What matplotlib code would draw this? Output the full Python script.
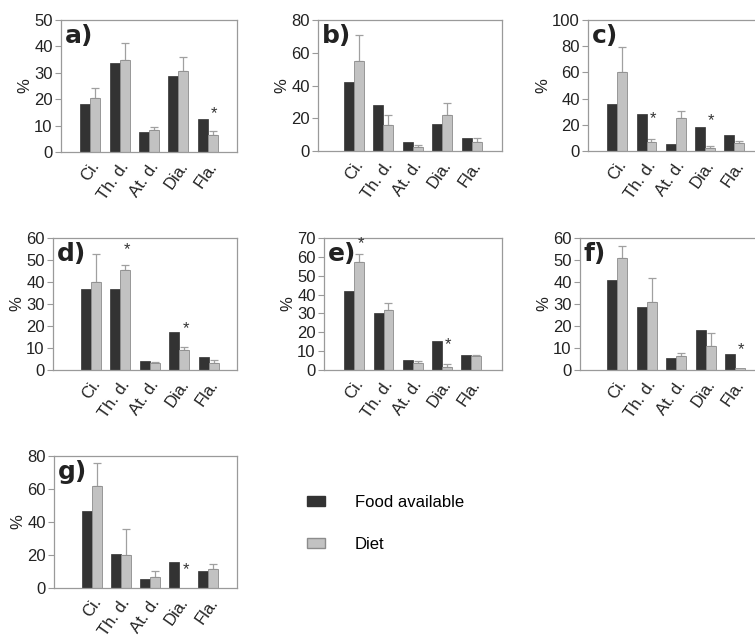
import matplotlib
matplotlib.use("Agg")
import matplotlib.pyplot as plt
import numpy as np
from matplotlib.patches import Patch

plt.rcParams['font.family'] = ['Liberation Sans', 'DejaVu Sans']

categories = ["Ci.", "Th. d.", "At. d.", "Dia.", "Fla."]
series_names = ["Food available", "Diet"]

food_a = [18.0, 33.8, 7.5, 28.9, 12.4]
diet_a = [20.6, 34.8, 8.2, 30.8, 6.5]
err_a = [3.7, 6.6, 1.3, 5.0, 1.6]
star_a = [None, None, None, None, 14.6]

food_b = [42.4, 27.9, 5.3, 16.3, 7.7]
diet_b = [55.0, 15.7, 2.6, 22.0, 5.3]
err_b = [15.9, 6.1, 1.1, 7.1, 2.4]
star_b = [None, None, None, None, None]

food_c = [35.6, 28.5, 5.6, 18.1, 12.5]
diet_c = [60.6, 6.6, 25.2, 2.3, 6.1]
err_c = [18.5, 2.8, 5.1, 1.5, 1.3]
star_c = [None, 25.0, None, 23.0, None]

food_d = [36.8, 36.8, 4.3, 17.3, 5.8]
diet_d = [40.1, 45.6, 3.0, 9.1, 3.2]
err_d = [12.5, 2.3, 0.8, 1.4, 1.4]
star_d = [None, 54.7, None, 19.0, None]

food_e = [42.0, 30.1, 5.1, 15.2, 8.2]
diet_e = [57.1, 31.6, 3.7, 1.8, 7.3]
err_e = [4.6, 3.7, 1.3, 1.4, 0.5]
star_e = [67.0, None, None, 13.3, None]

food_f = [40.8, 28.5, 5.4, 18.0, 7.3]
diet_f = [50.9, 31.0, 6.5, 11.0, 0.9]
err_f = [5.4, 10.8, 1.1, 5.6, 0.0]
star_f = [None, None, None, None, 9.4]

food_g = [46.6, 20.9, 5.3, 16.0, 10.3]
diet_g = [61.7, 19.8, 6.7, 0.2, 11.3]
err_g = [13.8, 16.2, 3.6, 0.0, 3.3]
star_g = [None, None, None, 11.3, None]

W, H = 755, 639
fig = plt.figure(figsize=(W / 100, H / 100), dpi=100)

DARK = "#333333"
LIGHT = "#c2c2c2"
EDGE = "#8c8c8c"
SPINE = "#9a9a9a"
TXT = "#222222"

# (label, food, diet, err, star, ymax, ystep, left,right,top,bottom px, xlim)
panels = [
    ("a)", food_a, diet_a, err_a, star_a, 50, 10, 61, 237, 20, 152, (-1.0, 5.0)),
    ("b)", food_b, diet_b, err_b, star_b, 80, 20, 318, 502, 20, 151, (-1.22, 5.03)),
    ("c)", food_c, diet_c, err_c, star_c, 100, 20, 588, 760, 20, 151, (-1.0, 4.88)),
    ("d)", food_d, diet_d, err_d, star_d, 60, 10, 53, 237, 238, 370, (-1.29, 4.96)),
    ("e)", food_e, diet_e, err_e, star_e, 70, 10, 324, 502, 238, 370, (-1.04, 5.06)),
    ("f)", food_f, diet_f, err_f, star_f, 60, 10, 580, 760, 238, 370, (-1.27, 4.85)),
    ("g)", food_g, diet_g, err_g, star_g, 80, 20, 54, 237, 456, 588, (-1.29, 4.98)),
]

bw = 0.34
x = np.arange(len(categories))
for (lab, food, diet, err, star, ymax, ystep, l, r, t, b, xl) in panels:
    ax = fig.add_axes([l / W, 1 - b / H, (r - l) / W, (b - t) / H])
    ax.bar(x - bw / 2, food, width=bw, color=DARK, edgecolor=DARK, linewidth=0.5, zorder=2)
    ax.bar(x + bw / 2, diet, width=bw, color=LIGHT, edgecolor=EDGE, linewidth=0.6, zorder=2)
    errs = np.array(err)
    mask = errs > 0
    ax.errorbar((x + bw / 2)[mask], np.array(diet)[mask],
                yerr=[np.zeros(mask.sum()), errs[mask]],
                fmt="none", ecolor="#a0a0a0", elinewidth=0.9, capsize=3, capthick=0.9, zorder=1)
    for i, s in enumerate(star):
        if s is not None:
            ax.text(x[i] + bw / 2 + 0.05, s, "*", ha="center", va="center", fontsize=12, color="#333333")
    ax.set_xlim(*xl)
    ax.set_ylim(0, ymax)
    ax.set_yticks(np.arange(0, ymax + 1, ystep))
    ax.set_xticks(x)
    ax.set_xticklabels(categories, rotation=55, ha="right", rotation_mode="anchor", fontsize=12, color=TXT)
    ax.tick_params(axis="x", length=0, pad=5)
    ax.tick_params(axis="y", length=4, width=0.8, color=SPINE, labelsize=12, labelcolor=TXT, pad=2)
    for sp in ax.spines.values():
        sp.set_color(SPINE)
        sp.set_linewidth(0.9)
    ax.set_ylabel("%", fontsize=12, color=TXT, labelpad=1)
    ax.text(4 / (r - l), 1 - 4 / (b - t), lab, transform=ax.transAxes, ha="left", va="top",
            fontsize=18, fontweight="bold", color=TXT, family="DejaVu Sans")

handles = [Patch(facecolor=DARK, edgecolor=DARK), Patch(facecolor=LIGHT, edgecolor=EDGE)]
fig.legend(handles, series_names, loc="upper left", bbox_to_anchor=(307 / W, 1 - 495 / H),
           frameon=False, fontsize=12, handlelength=1.08, handleheight=0.55,
           handletextpad=1.8, labelspacing=1.6, borderpad=0, borderaxespad=0)

fig.savefig("out.png", dpi=100)
